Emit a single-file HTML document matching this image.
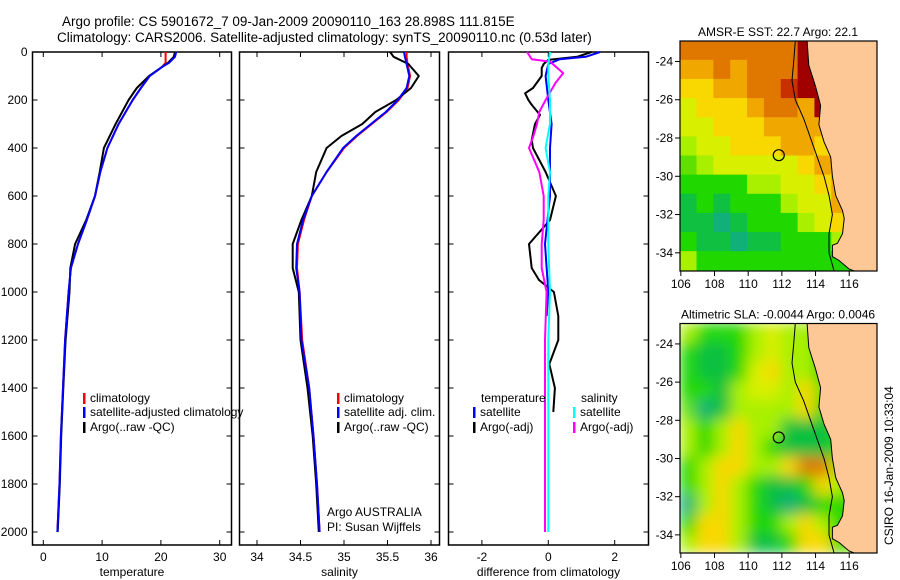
<!DOCTYPE html>
<html><head><meta charset="utf-8"><style>
html,body{margin:0;padding:0;background:#fff;}
svg{display:block;font-family:"Liberation Sans",sans-serif;}
text{font-size:12px;fill:#000;}
</style></head><body>
<svg id="fig" width="900" height="580" viewBox="0 0 900 580" xmlns="http://www.w3.org/2000/svg">
<defs>
<clipPath id="clipSST"><rect x="680" y="41" width="197" height="230"/></clipPath>
<clipPath id="clipSLA"><rect x="680" y="323.5" width="197" height="229.5"/></clipPath>
<filter id="blur" x="-5%" y="-5%" width="110%" height="110%"><feGaussianBlur stdDeviation="7" edgeMode="duplicate"/></filter>
</defs>
<text x="62" y="26" style="font-size:13.5px">Argo profile: CS 5901672_7 09-Jan-2009 20090110_163 28.898S 111.815E</text>
<text x="57" y="42" style="font-size:13.5px">Climatology: CARS2006. Satellite-adjusted climatology: synTS_20090110.nc (0.53d later)</text>
<g id="plots"></g>
</svg>
<script>
// ---- profile data ----
const tDepth = [0,20,45,62,100,150,200,300,400,500,600,700,800,900,1000,1200,1400,1600,1800,2000];
const tempClim = [20.8,20.8,20.8,20.2,18.1,16.6,15.2,12.8,10.9,9.7,8.8,7.4,5.9,4.7,4.3,3.7,3.35,3.0,2.75,2.4];
const tempSat  = [22.6,22.4,21.4,20.2,18.1,16.6,15.2,12.8,10.9,9.7,8.8,7.4,5.9,4.7,4.3,3.7,3.35,3.0,2.75,2.4];
const tempArgo = [22.4,22.2,21.2,20.2,18.0,15.9,14.5,12.3,10.3,9.6,8.8,7.3,5.4,4.6,4.45,3.8,3.4,3.05,2.8,2.45];
const sDepth = [0,20,50,100,150,200,250,300,350,400,500,600,700,800,900,1000,1200,1400,1600,1800,2000];
const salClim = [35.72,35.72,35.73,35.76,35.73,35.63,35.49,35.32,35.15,35.0,34.8,34.63,34.54,34.47,34.46,34.49,34.52,34.6,34.65,34.69,34.72];
const salSat  = [35.69,35.70,35.72,35.75,35.72,35.62,35.48,35.31,35.14,34.99,34.8,34.63,34.53,34.46,34.45,34.49,34.51,34.6,34.65,34.69,34.72];
const salArgo = [35.53,35.57,35.74,35.86,35.77,35.6,35.36,35.21,34.97,34.8,34.68,34.63,34.51,34.41,34.41,34.48,34.5,34.58,34.64,34.68,34.71];
const dDepthT = [0,20,33,50,67,100,150,172,200,220,262,300,367,400,442,500,600,700,800,900,950,1000,1100,1200,1300,1400,1500];
const diffTempArgo = [1.3,0.87,0.0,-0.14,-0.2,-0.2,-0.46,-0.7,-0.6,-0.5,-0.25,-0.4,-0.5,-0.46,-0.3,-0.08,0.23,0.05,-0.58,-0.5,-0.28,0.17,0.3,0.3,0.03,0.2,0.15];
const dDepthTS = [0,20,30,50,100,200,300,400,600,800,1000,1100];
const diffTempSat = [1.56,1.13,0.35,0.0,-0.08,0.0,0.1,0.05,0.05,-0.1,0.0,-0.05];
const dDepthS = [0,30,40,88,128,200,250,300,350,400,500,600,700,800,900,1000,1200,1500,2000];
const diffSalArgo = [-0.64,-0.5,0.05,0.45,0.22,-0.08,-0.27,-0.34,-0.45,-0.58,-0.27,-0.14,-0.14,-0.2,-0.2,-0.05,-0.1,-0.1,-0.1];
const dDepthSS = [0,50,100,200,300,400,500,600,800,1000,1200,1500,2000];
const diffSalSat = [0.05,0.0,0.0,0.05,0.05,-0.08,0.05,0.0,0.0,0.05,0.0,0.0,0.0];
const depthTicks = [0,200,400,600,800,1000,1200,1400,1600,1800,2000];
const tempTicks = [0,10,20,30];
const salTicks = [34,34.5,35,35.5,36];
const diffTicks = [-2,0,2];
// ---- map data (1-degree cells, rows from north) ----
const sstGrid = ["OOOOOOORRRGG","ooOoOOORRRGG","YYooOOrRRRGG","yYYYoOOoRRGG","yyYYYooooOGG","LyyYYYooYYGG","gLyyyyyYoYGG","GGGGLLyyYoGG","DGDGGGLyyoYG","DDTDGGGLyYLG","GDDTDDGGGLLG","LGGGGGGGGGGG"];
const slaGrid = ["LGGGLyLLGLGG","GDDGLyLLGLGG","GDDGyYLLGGGG","GGDLyyLYgGGG","gTDLLLLYGLGG","LGLYLLDDDGGG","LGLYLGDDDGLG","GLYYLLYOOLGG","GLYLGDDGYLGG","TLYLGDTDGGGG","GYYLGGLYLGGG","LYYLDDGYYGLG"];
const lonTicks = [106,108,110,112,114,116];
const latTicks = [-24,-26,-28,-30,-32,-34];
const argoLon = 111.815, argoLat = -28.898;
const coast = [[113.5,-22.93],[113.6,-24.2],[114.0,-25.3],[114.3,-26.3],[114.2,-27.3],[114.5,-28.2],[114.9,-29.0],[115.0,-30.0],[115.2,-31.0],[115.6,-31.8],[115.7,-32.2],[115.6,-33.0],[115.3,-33.5],[115.0,-33.6],[115.0,-34.2],[115.4,-34.4],[116.0,-34.85],[116.3,-34.95],[117.7,-34.95],[117.7,-22.93]];
const contour = [[112.8,-22.93],[112.7,-24],[112.6,-25],[112.8,-26],[113.3,-27],[113.7,-28],[114.1,-29],[114.5,-30],[114.8,-31],[115.0,-32],[114.8,-33],[114.8,-34],[115.1,-34.95]];

const NS="http://www.w3.org/2000/svg";
const root=document.getElementById('plots');
function el(tag,attrs,parent){const e=document.createElementNS(NS,tag);for(const k in attrs)e.setAttribute(k,attrs[k]);(parent||root).appendChild(e);return e;}
const yD=d=>52+0.24*d;
const PT=0,PB=545;
function panel(name,x0,x1,xs,ticks,fmt,xlabel,ylabels){
  const g=el('g',{});
  
  
  const r=el('rect',{x:x0,y:PT+52,width:x1-x0,height:PB-52,fill:'none',stroke:'#000','stroke-width':1.5},g);
  
  
  depthTicks.forEach(d=>{
    el('line',{x1:x0,x2:x0+5,y1:yD(d),y2:yD(d),stroke:'#000'},g);
    el('line',{x1:x1-5,x2:x1,y1:yD(d),y2:yD(d),stroke:'#000'},g);
    if(ylabels){const t=el('text',{x:x0-5,y:yD(d)+4,'text-anchor':'end'},g);t.textContent=d;
      
      }
  });
  ticks.forEach(v=>{const x=xs(v);
    el('line',{x1:x,x2:x,y1:PB,y2:PB-5,stroke:'#000'},g);
    el('line',{x1:x,x2:x,y1:52,y2:57,stroke:'#000'},g);
    const t=el('text',{x:x,y:561,'text-anchor':'middle'},g);t.textContent=fmt(v);
    
    
  });
  const xl=el('text',{x:(x0+x1)/2,y:576,'text-anchor':'middle'},g);xl.textContent=xlabel;
  
  
  return g;
}
function line(g,xs,vals,depths,color,name){
  const pts=vals.map((v,i)=>xs(v).toFixed(1)+','+yD(depths[i]).toFixed(1)).join(' ');
  const p=el('polyline',{points:pts,fill:'none',stroke:color,'stroke-width':2,'stroke-linejoin':'round'},g);
  
  
}
function legend(g,x,y,color,label,name){
  el('rect',{x:x,y:y-9,width:2.5,height:11,fill:color},g);
  const t=el('text',{x:x+7,y:y},g);t.textContent=label;
  
  
}
// panel 1 temperature
const xT=v=>43.3+5.88*v;
const g1=panel('temperature-panel',32.5,231.5,xT,tempTicks,v=>v,'temperature',true);
line(g1,xT,tempClim,tDepth,'#ff0000','temp-climatology-line');
line(g1,xT,tempArgo,tDepth,'#000000','temp-argo-line');
line(g1,xT,tempSat,tDepth,'#0000ff','temp-satellite-line');
legend(g1,83,402,'#ff0000','climatology','legend-climatology');
legend(g1,83,416,'#0000ff','satellite-adjusted climatology','legend-satellite-adjusted');
legend(g1,83,431,'#000000','Argo(..raw -QC)','legend-argo');
// panel 2 salinity
const xS=v=>257+87*(v-34);
const g2=panel('salinity-panel',239.5,439.5,xS,salTicks,v=>v,'salinity',false);
line(g2,xS,salClim,sDepth,'#ff0000','sal-climatology-line');
line(g2,xS,salArgo,sDepth,'#000000','sal-argo-line');
line(g2,xS,salSat,sDepth,'#0000ff','sal-satellite-line');
legend(g2,337,402,'#ff0000','climatology','legend-climatology-sal');
legend(g2,337,416,'#0000ff','satellite adj. clim.','legend-satellite-sal');
legend(g2,337,431,'#000000','Argo(..raw -QC)','legend-argo-sal');
[['Argo AUSTRALIA',516],['PI: Susan Wijffels',531]].forEach(a=>{const t=el('text',{x:327,y:a[1]},g2);t.textContent=a[0];
  
  });
// panel 3 diff
const xDf=v=>548.3+33.2*v;
const g3=panel('difference-panel',448.5,648.5,xDf,diffTicks,v=>v,'difference from climatology',false);
line(g3,xDf,diffTempArgo,dDepthT,'#000000','diff-temp-argo-line');
line(g3,xDf,diffTempSat,dDepthTS,'#0000ff','diff-temp-satellite-line');
line(g3,xDf,diffSalArgo,dDepthS,'#ff00ff','diff-sal-argo-line');
line(g3,xDf,diffSalSat,dDepthSS,'#00ffff','diff-sal-satellite-line');
{const t=el('text',{x:481,y:402},g3);t.textContent='temperature';
 
 
 const s=el('text',{x:581,y:402},g3);s.textContent='salinity';
 
 }
legend(g3,473,416,'#0000ff','satellite','legend-temp-satellite');
legend(g3,473,431,'#000000','Argo(-adj)','legend-temp-argo');
legend(g3,573,416,'#00ffff','satellite','legend-sal-satellite');
legend(g3,573,431,'#ff00ff','Argo(-adj)','legend-sal-argo');

// ---- maps ----
const pal={R:'#a00000',r:'#c83000',O:'#e07800',o:'#f0a800',Y:'#f8d800',y:'#d8f000',L:'#a8f000',g:'#60e000',G:'#20d800',D:'#10c040',T:'#10b078'};
function map(name,top,bot,grid,clip,blur,title){
  const lon0=105.95,lon1=117.65,lat0=-22.93,lat1=-34.95;
  const X=lo=>680+(lo-lon0)*(197/(lon1-lon0));
  const Y=la=>top+(lat0-la)*((bot-top)/(lat0-lat1));
  const g=el('g',{});
  
  
  const cg=el('g',{'clip-path':'url(#'+clip+')'},g);
  const hg=el('g',blur?{filter:'url(#blur)'}:{},cg);
  
  
  grid.forEach((row,j)=>{[...row].forEach((c,i)=>{
    const x=X(lon0+i),x2=X(lon0+i+1),y=Y(lat0-j),y2=Y(lat0-j-1);
    el('rect',{x:x-0.3,y:y-0.3,width:x2-x+0.6,height:y2-y+0.6,fill:pal[c]},hg);
  });});
  const land=el('polygon',{points:coast.map(p=>X(p[0]).toFixed(1)+','+Y(p[1]).toFixed(1)).join(' '),fill:'#fdc896',stroke:'#000','stroke-width':1},cg);
  
  
  const ct=el('polyline',{points:contour.map(p=>X(p[0]).toFixed(1)+','+Y(p[1]).toFixed(1)).join(' '),fill:'none',stroke:'#000','stroke-width':1},cg);
  
  
  const c=el('circle',{cx:X(argoLon),cy:Y(argoLat),r:5.5,fill:'none',stroke:'#000','stroke-width':1.2},g);
  
  
  el('rect',{x:680,y:top,width:197,height:bot-top,fill:'none',stroke:'#000','stroke-width':1.2},g);
  lonTicks.forEach(v=>{el('line',{x1:X(v),x2:X(v),y1:bot,y2:bot+5,stroke:'#000'},g);
    const t=el('text',{x:X(v),y:bot+17,'text-anchor':'middle'},g);t.textContent=v;
    
    });
  latTicks.forEach(v=>{el('line',{x1:675,x2:680,y1:Y(v),y2:Y(v),stroke:'#000'},g);
    const t=el('text',{x:673,y:Y(v)+4,'text-anchor':'end'},g);t.textContent=v;
    
    });
  const tt=el('text',{x:778,y:top-5,'text-anchor':'middle'},g);tt.textContent=title;
  
  
}
map('sst-map',41,271,sstGrid,'clipSST',false,'AMSR-E SST: 22.7 Argo: 22.1');
map('sla-map',323.5,553,slaGrid,'clipSLA',true,'Altimetric SLA: -0.0044  Argo: 0.0046');
const cs=el('text',{x:0,y:0,transform:'translate(893,545) rotate(-90)'});
cs.textContent='CSIRO 16-Jan-2009 10:33:04';


</script>
</body></html>
